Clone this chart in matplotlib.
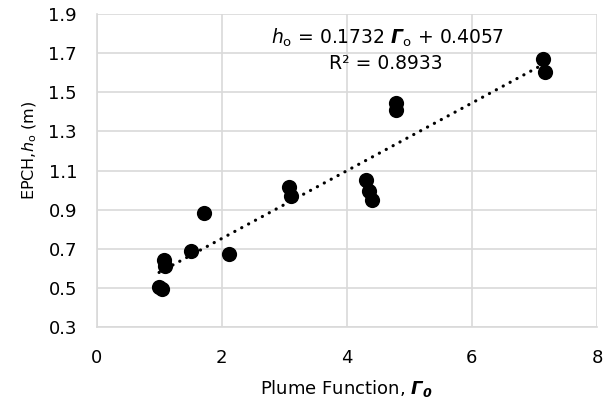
import numpy as np
import matplotlib
matplotlib.use('Agg')
import matplotlib.pyplot as plt

plt.rcParams['font.family'] = ['DejaVu Sans']
plt.rcParams['mathtext.fontset'] = 'custom'
plt.rcParams['mathtext.rm'] = 'DejaVu Sans'
plt.rcParams['mathtext.it'] = 'DejaVu Sans:italic'
plt.rcParams['mathtext.bf'] = 'DejaVu Sans:bold:italic'

# plume function vs EPCH
gamma0 = [1.00, 1.05, 1.08, 1.10, 1.51, 1.72, 2.12, 3.08, 3.11,
          4.31, 4.36, 4.40, 4.78, 4.79, 7.13, 7.17]
h0 = [0.505, 0.495, 0.645, 0.610, 0.690, 0.885, 0.672, 1.018, 0.972,
      1.052, 0.995, 0.950, 1.447, 1.410, 1.668, 1.605]

slope, intercept, r2 = 0.1732, 0.4057, 0.8933

fig = plt.figure(figsize=(6.11, 4.08), dpi=100)
ax = fig.add_axes([0.158, 0.1985, 0.819, 0.7672])

ax.scatter(gamma0, h0, s=120, color="black", zorder=3, linewidths=0)

# linear trendline over the data range
xt = np.array([min(gamma0), max(gamma0)])
ax.plot(xt, slope * xt + intercept, color="black", linestyle=(0, (0.05, 2.4)),
        linewidth=2.3, dash_capstyle="round", zorder=2)

ax.set_xlim(0, 8)
ax.set_ylim(0.3, 1.9)
ax.set_xticks(np.arange(0, 9, 2))
yt = np.arange(0.3, 1.91, 0.2)
ax.set_yticks(yt)
ax.set_yticklabels([f"{v:.1f}" for v in yt])
ax.tick_params(length=0, labelsize=13, colors="#000000")
ax.tick_params(axis="y", pad=14)
ax.tick_params(axis="x", pad=16)
ax.grid(True, color="#d9d9d9", linewidth=1.2, zorder=0)
ax.set_axisbelow(True)
for side in ["top", "right"]:
    ax.spines[side].set_visible(False)
for side in ["left", "bottom"]:
    ax.spines[side].set_color("#d9d9d9")
    ax.spines[side].set_linewidth(1.2)

ax.set_xlabel(r"Plume Function, $\mathbf{\Gamma_0}$", fontsize=13, labelpad=8)
ax.set_ylabel(r"EPCH,$h_\mathrm{o}$ (m)", fontsize=11.5, labelpad=3)
ax.yaxis.set_label_coords(-0.115, 0.565)

ax.text(0.581, 0.923, r"$h_\mathrm{o}$ = 0.1732 $\mathbf{\Gamma}_\mathrm{o}$ + 0.4057",
        transform=ax.transAxes, ha="center", va="center", fontsize=13.5)
ax.text(0.579, 0.843, f"R² = {r2:.4f}",
        transform=ax.transAxes, ha="center", va="center", fontsize=13.5)

fig.savefig("out.png", dpi=100)
